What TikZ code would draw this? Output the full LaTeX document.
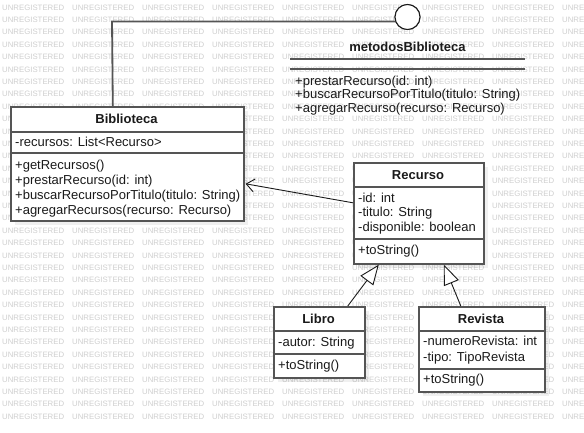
\documentclass[tikz,border=0pt]{standalone}
\usepackage{fontspec}
\setmainfont{Liberation Sans}
\usetikzlibrary{arrows.meta}
\definecolor{edge}{HTML}{555555}
\definecolor{ink}{HTML}{1A1A1A}
\begin{document}
\begin{tikzpicture}[x=1pt,y=-1pt,
  wm/.style={text=black!19, font=\fontsize{7.8}{8}\selectfont, anchor=base west, inner sep=0},
  umlbox/.style={draw=edge, line width=1.6pt, fill=white, inner sep=0, anchor=north west},
  shade/.style={fill=black, fill opacity=0.06, draw=none},
  sepline/.style={draw=edge, line width=1.6pt},
  hdr/.style={font=\fontsize{13}{15}\selectfont\bfseries, inner sep=0, text=ink, anchor=base},
  txt/.style={font=\fontsize{13}{15}\selectfont, inner sep=0, text=ink, anchor=base west},
  assoc/.style={draw=ink, line width=0.9pt, -{Straight Barb[length=8pt,width=13pt,line width=0.9pt]}},
  gen/.style={draw=ink, line width=0.9pt, -{Triangle[open,length=20pt,width=16pt,fill=white,line width=0.9pt]}},
  lolli/.style={draw=edge, line width=1.8pt},
  lollicircle/.style={circle, draw=ink, line width=1pt, fill=white, minimum size=25pt, inner sep=0}
]
\useasboundingbox (0,0) rectangle (584,432);
\fill[white] (0,0) rectangle (584,432);
% watermark (items fully hidden under class boxes are skipped)
\foreach \r in {0,...,33}{
  \foreach \c in {0,...,8}{
    \pgfmathsetmacro\wx{2+70*\c}
    \pgfmathsetmacro\wy{10+12.4*\r}
    \pgfmathtruncatemacro\hide{
      ((\wx>=10)&&(\wx+62<=243)&&(\wy-6>=106)&&(\wy<=220)) ||
      ((\wx>=353)&&(\wx+62<=483)&&(\wy-6>=162)&&(\wy<=263)) ||
      ((\wx>=273)&&(\wx+62<=364)&&(\wy-6>=306)&&(\wy<=377)) ||
      ((\wx>=418)&&(\wx+62<=544)&&(\wy-6>=306)&&(\wy<=391))}
    \ifnum\hide=0
      \node[wm] (wm-\r-\c) at (\wx,\wy) {UNREGISTERED};
    \fi
  }
}
% shadows
\fill[shade] (15,111) rectangle (248,225);
\fill[shade] (358,167) rectangle (488,268);
\fill[shade] (278,311) rectangle (369,382);
\fill[shade] (423,311) rectangle (549,396);
% interface lollipop
\node[lollicircle] (iface) at (407.5,17) {};
\node[hdr] (ifname) at (407.5,51) {metodosBiblioteca};
\draw[lolli] (290,59) -- (525,59);
\draw[lolli] (290,69) -- (525,69);
\node[txt] (if1) at (295,85) {+prestarRecurso(id: int)};
\node[txt] (if2) at (295,98.5) {+buscarRecursoPorTitulo(titulo: String)};
\node[txt] (if3) at (295,112) {+agregarRecurso(recurso: Recurso)};
% Biblioteca
\node[umlbox, minimum width=233pt, minimum height=114pt] (bib) at (10,106) {};
\draw[sepline] (bib.west |- 0,132) -- (bib.east |- 0,132);
\draw[sepline] (bib.west |- 0,153) -- (bib.east |- 0,153);
\node[hdr] (bibh) at (126.5,123.3) {Biblioteca};
\node[txt] (biba1) at (15,146.5) {-recursos: List<Recurso>};
\node[txt] (bibm1) at (15,169) {+getRecursos()};
\node[txt] (bibm2) at (15,184) {+prestarRecurso(id: int)};
\node[txt] (bibm3) at (15,199) {+buscarRecursoPorTitulo(titulo: String)};
\node[txt] (bibm4) at (15,214) {+agregarRecursos(recurso: Recurso)};
% realization line to interface
\coordinate (bend) at (112,21.5);
\draw[lolli] ([xshift=-14.5pt]bib.north) -- (bend) -- (bend -| iface.center);
\node[lollicircle] (iface2) at (iface.center) {};
% Recurso
\node[umlbox, minimum width=130pt, minimum height=101pt] (rec) at (353,162) {};
\draw[sepline] (rec.west |- 0,187) -- (rec.east |- 0,187);
\draw[sepline] (rec.west |- 0,239) -- (rec.east |- 0,239);
\node[hdr] (rech) at (418,179.3) {Recurso};
\node[txt] (reca1) at (358,202) {-id: int};
\node[txt] (reca2) at (358,216.7) {-titulo: String};
\node[txt] (reca3) at (358,231.7) {-disponible: boolean};
\node[txt] (recm1) at (358,254) {+toString()};
% Libro
\node[umlbox, minimum width=91pt, minimum height=71pt] (lib) at (273,306) {};
\draw[sepline] (lib.west |- 0,331) -- (lib.east |- 0,331);
\draw[sepline] (lib.west |- 0,354) -- (lib.east |- 0,354);
\node[hdr] (libh) at (318.5,323.3) {Libro};
\node[txt] (liba1) at (278,346.7) {-autor: String};
\node[txt] (libm1) at (278,369.3) {+toString()};
% Revista
\node[umlbox, minimum width=126pt, minimum height=85pt] (rev) at (418,306) {};
\draw[sepline] (rev.west |- 0,331) -- (rev.east |- 0,331);
\draw[sepline] (rev.west |- 0,369) -- (rev.east |- 0,369);
\node[hdr] (revh) at (481,323.3) {Revista};
\node[txt] (reva1) at (423,345.7) {-numeroRevista: int};
\node[txt] (reva2) at (423,361) {-tipo: TipoRevista};
\node[txt] (revm1) at (423,383.3) {+toString()};
% connectors
\draw[assoc] ([yshift=10.5pt]rec.west) -- ([yshift=-20pt,xshift=1pt]bib.east);
\draw[gen] ([xshift=28.5pt]lib.north) -- ([xshift=-40pt]rec.south);
\draw[gen] ([xshift=-21pt]rev.north) -- ([xshift=25pt]rec.south);
\end{tikzpicture}
\end{document}
